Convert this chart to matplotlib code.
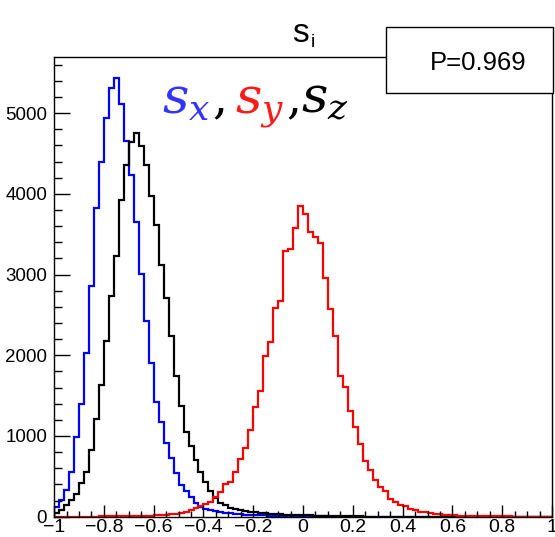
#!/usr/bin/env python3
"""Histograms of s_x, s_y, s_z components (ROOT style)."""

import numpy as np
import matplotlib
matplotlib.use("Agg")
import matplotlib.pyplot as plt
from matplotlib.patches import Rectangle
from matplotlib.ticker import MultipleLocator, FixedLocator

# 100 bins from -1 to 1
X_MIN, X_MAX, N_BINS = -1.0, 1.0, 100

s_x = [
    124, 210, 330, 550, 985, 1400, 2025, 2860, 3830, 4400, 4945, 5310,
    5430, 5120, 4650, 4235, 3655, 3010, 2420, 1905, 1425, 1175, 918, 725,
    542, 390, 315, 248, 170, 125, 100, 85, 70, 58, 48, 42,
    36, 31, 27, 23, 20, 17, 15, 13, 11, 10, 9, 8,
    7, 6, 5, 4, 4, 3, 3, 2, 2, 1, 1, 1,
    0, 0, 0, 0, 0, 0, 0, 0, 0, 0, 0, 0, 0, 0, 0, 0, 0, 0, 0, 0,
    0, 0, 0, 0, 0, 0, 0, 0, 0, 0, 0, 0, 0, 0, 0, 0, 0, 0, 0, 0,
]

s_z = [
    45, 88, 145, 207, 280, 414, 559, 832, 1210, 1630, 2175, 2730,
    3230, 3925, 4355, 4645, 4760, 4595, 4355, 3975, 3615, 3125, 2705, 2240,
    1740, 1375, 1045, 870, 708, 553, 435, 315, 228, 175, 140, 110,
    92, 80, 70, 62, 55, 48, 43, 38, 34, 30, 27, 24,
    21, 19, 17, 15, 13, 11, 9, 8, 7, 6, 5, 4,
    3, 3, 2, 2, 1, 1, 1, 0, 0, 0, 0, 0,
    0, 0, 0, 0, 0, 0, 0, 0, 0, 0, 0, 0, 0, 0, 0, 0, 0, 0, 0, 0,
    0, 0, 0, 0, 0, 0, 0, 0,
]

s_y = [
    0, 0, 0, 0, 0, 1, 1, 2, 2, 3, 3, 4,
    5, 6, 7, 8, 9, 10, 12, 14, 17, 20, 25, 33,
    33, 50, 62, 83, 103, 136, 157, 186, 248, 300, 400, 430,
    560, 710, 850, 1075, 1355, 1560, 1995, 2168, 2592, 2672, 3292, 3320,
    3572, 3853, 3748, 3532, 3463, 3388, 2962, 2570, 2243, 1747, 1605, 1310,
    1108, 901, 685, 578, 450, 363, 316, 215, 186, 145, 128, 90,
    88, 60, 55, 40, 38, 29, 27, 21, 19, 14, 12, 10,
    9, 7, 6, 5, 4, 4, 3, 3, 2, 2, 2, 1,
    1, 1, 1, 0,
]

x_ticks = [-1, -0.8, -0.6, -0.4, -0.2, 0, 0.2, 0.4, 0.6, 0.8, 1]
x_tick_labels = ["\u22121", "\u22120.8", "\u22120.6", "\u22120.4", "\u22120.2",
                 "0", "0.2", "0.4", "0.6", "0.8", "1"]
y_ticks = [0, 1000, 2000, 3000, 4000, 5000]

W, H = 555, 537


def fig_xy(px, py):
    """Pixel position (from top-left) to figure fraction."""
    return px / W, 1 - py / H


plt.rcParams["font.family"] = ["Liberation Sans", "DejaVu Sans"]
plt.rcParams["mathtext.fontset"] = "dejavuserif"

fig = plt.figure(figsize=(W / 100, H / 100), dpi=100)
left, top = fig_xy(54.1, 56.7)
right, bottom = fig_xy(552, 516.7)
ax = fig.add_axes([left, bottom, right - left, top - bottom])

edges = np.linspace(X_MIN, X_MAX, N_BINS + 1)
ax.stairs(s_x, edges, color="#0000ff", lw=1.6, baseline=0)
ax.stairs(s_z, edges, color="black", lw=1.6, baseline=0)
ax.stairs(s_y, edges, color="#ff0000", lw=1.6, baseline=0)

ax.set_xlim(X_MIN, X_MAX)
ax.set_ylim(0, 5700)

ax.xaxis.set_major_locator(FixedLocator(x_ticks))
ax.set_xticklabels(x_tick_labels)
ax.xaxis.set_minor_locator(MultipleLocator(0.05))
ax.set_yticks(y_ticks)
ax.yaxis.set_minor_locator(MultipleLocator(200))

ax.tick_params(axis="x", which="major", direction="in", length=8.6, width=1,
               labelsize=14, pad=2, top=False)
ax.tick_params(axis="x", which="minor", direction="in", length=4.3, width=1,
               top=False)
ax.tick_params(axis="y", which="major", direction="in", length=11.5, width=1,
               labelsize=13.5, pad=5, right=False)
ax.tick_params(axis="y", which="minor", direction="in", length=5.5, width=1,
               right=False)
for sp in ax.spines.values():
    sp.set_linewidth(1)

# title s_i
fig.text(*fig_xy(300, 42), "s", fontsize=24, ha="center", va="baseline")
fig.text(*fig_xy(312.5, 47), "i", fontsize=14, ha="center", va="baseline")

# stat box
bx0, by1 = fig_xy(385.7, 93.3)
bx1, by0 = fig_xy(553.3, 27.3)
fig.add_artist(Rectangle((bx0, by1), bx1 - bx0, by0 - by1,
                         transform=fig.transFigure, facecolor="white",
                         edgecolor="black", lw=1, zorder=5))
fig.text(*fig_xy(478, 63), "P=0.969", fontsize=18.5, ha="center",
         va="center", zorder=6)

# coloured label s_x, s_y, s_z
label_y = 113
fig.text(*fig_xy(162, label_y), r"$s_x$", color="#3333ff", fontsize=37,
         va="baseline")
fig.text(*fig_xy(212, label_y), r"$,$", color="black", fontsize=34,
         va="baseline")
fig.text(*fig_xy(235, label_y), r"$s_y$", color="#ff1a1a", fontsize=37,
         va="baseline")
fig.text(*fig_xy(286, label_y), r"$,$", color="black", fontsize=34,
         va="baseline")
fig.text(*fig_xy(301, label_y), r"$s_z$", color="black", fontsize=37,
         va="baseline")

fig.savefig("out.png", dpi=100)
